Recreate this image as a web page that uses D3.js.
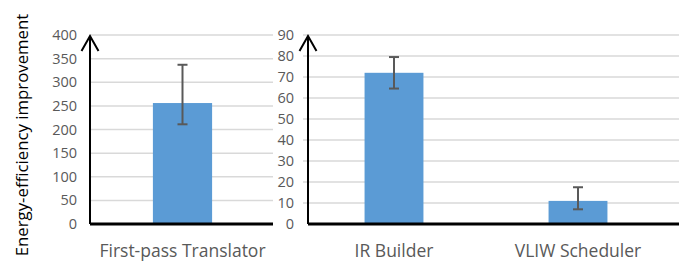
<!DOCTYPE html>
<html>
<head>
<meta charset="utf-8">
<script src="https://cdn.jsdelivr.net/npm/d3@7"></script>
<style>
  body { margin: 0; background: #fff; }
  svg { display: block; }
  .tick-label { font-family: "Open Sans", sans-serif; font-size: 14.5px; fill: #595959; }
  .cat-label { font-family: "Open Sans", sans-serif; font-size: 17.5px; fill: #595959; }
  .y-title { font-family: "Open Sans", sans-serif; font-size: 16.8px; fill: #000; }
</style>
</head>
<body>
<svg id="chart" width="690" height="268"></svg>
<script>
// left panel
const leftCategories = ["First-pass Translator"];
const leftValues = [256];
const leftErrLow = [211];
const leftErrHigh = [337];
const leftTicks = [0, 50, 100, 150, 200, 250, 300, 350, 400];

// right panel
const rightCategories = ["IR Builder", "VLIW Scheduler"];
const rightValues = [72, 11];
const rightErrLow = [64.5, 7];
const rightErrHigh = [79.5, 17.5];
const rightTicks = [0, 10, 20, 30, 40, 50, 60, 70, 80, 90];

const yTitle = "Energy-efficiency improvement";

const svg = d3.select('#chart');
const barColor = '#5b9bd5';
const top_y = 35, bottom_y = 224;

function drawPanel(opts) {
    let g = svg.append('g');
    let y = d3.scaleLinear()
        .domain([0, d3.max(opts.ticks)])
        .range([bottom_y, top_y]);
    let x = d3.scaleBand()
        .domain(opts.categories)
        .range(opts.bandRange)
        .paddingInner(0.68)
        .paddingOuter(0.34);

    // gridlines
    g.selectAll('line.grid')
        .data(opts.ticks.filter(t => t > 0))
        .join('line')
        .attr('x1', opts.gridX[0])
        .attr('x2', opts.gridX[1])
        .attr('y1', d => y(d))
        .attr('y2', d => y(d))
        .attr('stroke', '#d9d9d9')
        .attr('stroke-width', 1.5);

    // tick labels
    g.selectAll('text.tick-label')
        .data(opts.ticks)
        .join('text')
        .classed('tick-label', true)
        .attr('x', opts.labelX)
        .attr('y', d => y(d))
        .attr('dy', '0.35em')
        .attr('text-anchor', 'end')
        .text(d => d);

    // bars
    g.selectAll('rect.bar')
        .data(opts.values)
        .join('rect')
        .attr('x', (d, i) => x(opts.categories[i]))
        .attr('y', d => y(d))
        .attr('width', x.bandwidth())
        .attr('height', d => y(0) - y(d))
        .attr('fill', barColor);

    // error bars
    let err = g.selectAll('g.err')
        .data(opts.values.map((v, i) => ({cat: opts.categories[i], lo: opts.errLow[i], hi: opts.errHigh[i]})))
        .join('g')
        .attr('stroke', '#595959')
        .attr('stroke-width', 2);
    err.append('line')
        .attr('x1', d => x(d.cat) + x.bandwidth() / 2)
        .attr('x2', d => x(d.cat) + x.bandwidth() / 2)
        .attr('y1', d => y(d.lo))
        .attr('y2', d => y(d.hi));
    err.append('line')
        .attr('x1', d => x(d.cat) + x.bandwidth() / 2 - 5)
        .attr('x2', d => x(d.cat) + x.bandwidth() / 2 + 5)
        .attr('y1', d => y(d.hi))
        .attr('y2', d => y(d.hi));
    err.append('line')
        .attr('x1', d => x(d.cat) + x.bandwidth() / 2 - 5)
        .attr('x2', d => x(d.cat) + x.bandwidth() / 2 + 5)
        .attr('y1', d => y(d.lo))
        .attr('y2', d => y(d.lo));

    // x axis baseline
    g.append('line')
        .attr('x1', opts.axisX)
        .attr('x2', opts.gridX[1])
        .attr('y1', y(0))
        .attr('y2', y(0))
        .attr('stroke', '#000')
        .attr('stroke-width', 3);

    // y axis with arrow
    g.append('line')
        .attr('x1', opts.axisX).attr('x2', opts.axisX)
        .attr('y1', y(0)).attr('y2', y.range()[1] + 1)
        .attr('stroke', '#000')
        .attr('stroke-width', 2);
    g.append('polyline')
        .attr('points', [[opts.axisX - 8.5, y.range()[1] + 16], [opts.axisX, y.range()[1] + 1], [opts.axisX + 8.5, y.range()[1] + 16]].map(p => p.join(',')).join(' '))
        .attr('fill', 'none')
        .attr('stroke', '#000')
        .attr('stroke-width', 2);

    // category labels
    g.selectAll('text.cat-label')
        .data(opts.categories)
        .join('text')
        .classed('cat-label', true)
        .attr('x', d => x(d) + x.bandwidth() / 2)
        .attr('y', 257)
        .attr('text-anchor', 'middle')
        .text(d => d);
}

drawPanel({
    categories: leftCategories, values: leftValues, errLow: leftErrLow, errHigh: leftErrHigh,
    ticks: leftTicks, bandRange: [90, 275], gridX: [90, 273], axisX: 90, labelX: 77
});
drawPanel({
    categories: rightCategories, values: rightValues, errLow: rightErrLow, errHigh: rightErrHigh,
    ticks: rightTicks, bandRange: [302, 670], gridX: [303, 679], axisX: 308, labelX: 294
});

svg.append('text')
    .classed('y-title', true)
    .attr('transform', 'translate(22,135) rotate(-90)')
    .attr('text-anchor', 'middle')
    .attr('dy', '0.35em')
    .text(yTitle);
</script>
</body>
</html>
